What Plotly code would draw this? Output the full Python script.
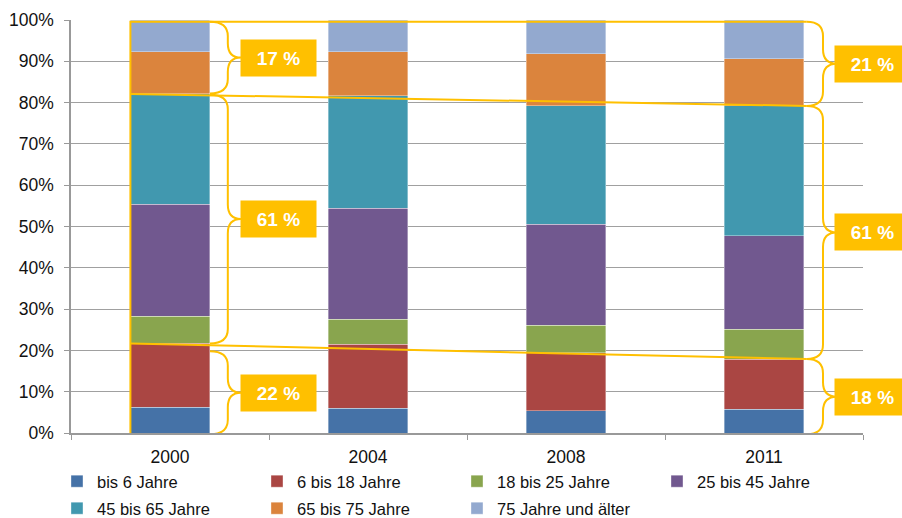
import plotly.graph_objects as go

# Altersstruktur in Prozent
jahre = ['2000', '2004', '2008', '2011']
bis_6 = [6.2, 6.0, 5.4, 5.7]
bis_18 = [15.5, 15.5, 14.0, 12.2]
bis_25 = [6.6, 6.0, 6.7, 7.2]
bis_45 = [27.1, 26.9, 24.5, 22.7]
bis_65 = [26.7, 27.2, 28.6, 31.4]
bis_75 = [10.2, 10.7, 12.6, 11.4]
ab_75 = [7.7, 7.7, 8.2, 9.4]

namen = ['bis 6 Jahre', '6 bis 18 Jahre', '18 bis 25 Jahre', '25 bis 45 Jahre',
         '45 bis 65 Jahre', '65 bis 75 Jahre', '75 Jahre und älter']
farben = ['#4572A7', '#AA4643', '#89A54E', '#71588F', '#4198AF', '#DB843D', '#93A9CF']
reihen = [bis_6, bis_18, bis_25, bis_45, bis_65, bis_75, ab_75]

# Zusammengefasste Anteile für die Klammern
links_labels = ['17 %', '61 %', '22 %']
rechts_labels = ['21 %', '61 %', '18 %']

GELB = '#FFC000'
FONT = 'Liberation Sans, Arial'

fig = go.Figure()
for i, (name, farbe, werte) in enumerate(zip(namen, farben, reihen)):
    fig.add_trace(go.Bar(
        x=jahre, y=werte, name=name,
        legend='legend' if i < 4 else 'legend2',
        marker=dict(color=farbe, line=dict(width=0.6, color='rgba(255,255,255,0.6)')),
    ))

# Grenzen unter 18 / über 65 aus den Daten
unter18 = [a + b for a, b in zip(bis_6, bis_18)]
bis65 = [sum(r[i] for r in reihen[:5]) for i in range(len(jahre))]

top, bottom = 99.6, -0.3
x_left = 0.075      # linke Kante Balken 2000 (paper)
x_right = 0.929     # Ende der Linien bei 2011


def klammer(xe, xs, xt, y_oben, y_unten, r=3.5):
    ym = (y_oben + y_unten) / 2
    return (f"M{xe},{y_oben} Q{xs},{y_oben} {xs},{y_oben - r} "
            f"L{xs},{ym + r} Q{xs},{ym} {xt},{ym} "
            f"Q{xs},{ym} {xs},{ym - r} "
            f"L{xs},{y_unten + r} Q{xs},{y_unten} {xe},{y_unten}")


shapes = []
linie = dict(color=GELB, width=2)
# Rahmen und Verbindungslinien
shapes.append(dict(type='path', xref='paper', yref='y', line=linie,
                   path=f"M{x_right},{top} L{x_left},{top} L{x_left},{bottom} L{x_right},{bottom}"))
shapes.append(dict(type='line', xref='paper', yref='y', line=linie,
                   x0=x_left, y0=bis65[0], x1=x_right, y1=bis65[-1]))
shapes.append(dict(type='line', xref='paper', yref='y', line=linie,
                   x0=x_left, y0=unter18[0], x1=x_right, y1=unter18[-1]))

# Klammern links (2000) und rechts (2011)
links = [(bis65[0] + 0.1, top), (unter18[0], bis65[0] - 0.2), (bottom, unter18[0] - 1.9)]
rechts = [(bis65[-1], top), (unter18[-1], bis65[-1]), (bottom, unter18[-1])]
for (yu, yo) in links:
    shapes.append(dict(type='path', xref='paper', yref='y', line=linie,
                       path=klammer(0.1755, 0.198, 0.2146, yo, yu)))
for (yu, yo) in rechts:
    shapes.append(dict(type='path', xref='paper', yref='y', line=linie,
                       path=klammer(x_right, 0.9495, 0.967, yo, yu)))

annotations = []
for labels, spans, xpos in [(links_labels, links, 0.262), (rechts_labels, rechts, 1.0126)]:
    for text, (yu, yo) in zip(labels, spans):
        annotations.append(dict(xref='paper', yref='y', x=xpos, y=(yu + yo) / 2,
                                xanchor='center', yanchor='middle',
                                text='<b>' + text + '</b>', showarrow=False,
                                bgcolor=GELB, width=75, height=36, borderpad=0,
                                font=dict(color='white', size=19, family=FONT)))

legend_style = dict(orientation='h', x=-0.0177, xanchor='left', yanchor='top',
                    entrywidth=155, entrywidthmode='pixels', itemwidth=30,
                    font=dict(size=16.5), traceorder='normal', bgcolor='rgba(0,0,0,0)')

fig.update_layout(
    barmode='stack',
    bargap=0.6,
    width=902, height=518,
    margin=dict(l=71, r=39, t=20, b=85, autoexpand=False),
    paper_bgcolor='white', plot_bgcolor='white',
    font=dict(family=FONT, size=17.5, color='#111111'),
    shapes=shapes,
    annotations=annotations,
    legend=dict(legend_style, y=-0.075),
    legend2=dict(legend_style, y=-0.1404),
    showlegend=True,
)
fig.update_yaxes(range=[0, 100], ticksuffix='%', dtick=10, showgrid=True,
                 gridcolor='#a0a0a0', gridwidth=1, showline=True, linecolor='#999999',
                 linewidth=1.5, ticks='outside', ticklen=5, tickcolor='#999999',
                 ticklabelstandoff=7, zeroline=False)
fig.update_xaxes(showline=True, linecolor='#999999', linewidth=1.5, ticks='outside',
                 tickson='boundaries', ticklen=5, tickcolor='#999999',
                 ticklabelstandoff=7)

fig.write_html("out.html", config={'displayModeBar': False},
               post_script="document.body.style.margin='0';")
